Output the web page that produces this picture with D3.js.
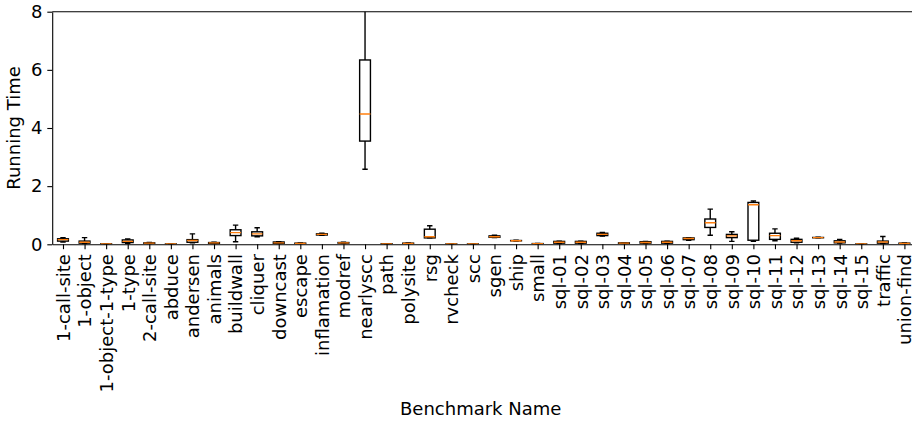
<!DOCTYPE html>
<html>
<head>
<meta charset="utf-8">
<script src="https://cdn.jsdelivr.net/npm/d3@7"></script>
<style>
  body { margin: 0; background: #fff; }
  text { font-family: "DejaVu Sans", sans-serif; }
</style>
</head>
<body>
<svg id="chart"></svg>
<script>
const svgWidth = 912;
const svgHeight = 424;

// benchmark names, in order
const names = ["1-call-site", "1-object", "1-object-1-type", "1-type", "2-call-site", "abduce",
  "andersen", "animals", "buildwall", "cliquer", "downcast", "escape", "inflamation", "modref",
  "nearlyscc", "path", "polysite", "rsg", "rvcheck", "scc", "sgen", "ship", "small",
  "sql-01", "sql-02", "sql-03", "sql-04", "sql-05", "sql-06", "sql-07", "sql-08", "sql-09",
  "sql-10", "sql-11", "sql-12", "sql-13", "sql-14", "sql-15", "traffic", "union-find"];

// box statistics
const whiskLow = [0.08, 0.02, 0.005, 0.03, 0.02, 0.005, 0.05, 0.02, 0.09, 0.26, 0.02, 0.02, 0.31, 0.03,
  2.58, 0.005, 0.02, 0.22, 0.005, 0.005, 0.23, 0.11, 0.01,
  0.02, 0.02, 0.28, 0.02, 0.02, 0.03, 0.14, 0.31, 0.10, 0.10, 0.12, 0.05, 0.22, 0.04, 0.005, 0.02, 0.02];
const q1 = [0.11, 0.04, 0.01, 0.06, 0.03, 0.008, 0.07, 0.03, 0.30, 0.29, 0.03, 0.025, 0.32, 0.04,
  3.55, 0.01, 0.025, 0.22, 0.008, 0.008, 0.24, 0.12, 0.015,
  0.04, 0.04, 0.30, 0.03, 0.04, 0.04, 0.16, 0.58, 0.23, 0.14, 0.17, 0.07, 0.225, 0.05, 0.008, 0.04, 0.025];
const medians = [0.16, 0.07, 0.012, 0.10, 0.04, 0.01, 0.13, 0.05, 0.40, 0.36, 0.05, 0.03, 0.34, 0.05,
  4.48, 0.015, 0.03, 0.26, 0.01, 0.01, 0.26, 0.12, 0.02,
  0.07, 0.07, 0.34, 0.04, 0.06, 0.07, 0.20, 0.74, 0.29, 1.36, 0.30, 0.12, 0.23, 0.08, 0.01, 0.08, 0.03];
const q3 = [0.19, 0.11, 0.015, 0.15, 0.05, 0.012, 0.16, 0.06, 0.50, 0.43, 0.08, 0.04, 0.36, 0.06,
  6.34, 0.02, 0.04, 0.52, 0.012, 0.012, 0.29, 0.13, 0.025,
  0.10, 0.10, 0.38, 0.05, 0.09, 0.10, 0.22, 0.87, 0.34, 1.44, 0.38, 0.17, 0.235, 0.12, 0.012, 0.11, 0.04];
const whiskHigh = [0.23, 0.23, 0.02, 0.18, 0.06, 0.015, 0.36, 0.07, 0.66, 0.57, 0.09, 0.045, 0.38, 0.07,
  8.6, 0.02, 0.045, 0.64, 0.015, 0.015, 0.31, 0.14, 0.03,
  0.11, 0.11, 0.41, 0.05, 0.10, 0.11, 0.23, 1.21, 0.43, 1.49, 0.53, 0.21, 0.24, 0.17, 0.015, 0.27, 0.045];
const yTicks = [0, 2, 4, 6, 8];

const plotLeft = 52.2, plotRight = 915.2, plotTop = 11.7, plotBottom = 244.3;
const fontSize = 18;

const svg = d3.select("#chart")
  .attr("width", svgWidth)
  .attr("height", svgHeight);

const xScale = d3.scalePoint()
  .domain(names)
  .range([plotLeft, plotRight])
  .padding(0.5);
const yScale = d3.scaleLinear()
  .domain([0, 8])
  .range([plotBottom, plotTop]);

const step = xScale.step();
const boxW = step * 0.5;
const capW = step * 0.25;

svg.append("defs").append("clipPath")
  .attr("id", "plotClip")
  .append("rect")
  .attr("x", plotLeft).attr("y", plotTop)
  .attr("width", plotRight - plotLeft).attr("height", plotBottom - plotTop);

const boxes = names.map((n, i) => ({
  name: n, lo: whiskLow[i], q1: q1[i], med: medians[i], q3: q3[i], hi: whiskHigh[i]
}));

const plot = svg.append("g").attr("clip-path", "url(#plotClip)");

const g = plot.selectAll("g.box")
  .data(boxes)
  .enter()
  .append("g")
  .attr("class", "box")
  .attr("transform", d => `translate(${xScale(d.name)},0)`);

// whiskers
g.append("line")
  .attr("y1", d => yScale(d.q3)).attr("y2", d => yScale(d.hi))
  .attr("stroke", "#000").attr("stroke-width", 1.4);
g.append("line")
  .attr("y1", d => yScale(d.q1)).attr("y2", d => yScale(d.lo))
  .attr("stroke", "#000").attr("stroke-width", 1.4);
// caps
g.append("line")
  .attr("x1", -capW / 2).attr("x2", capW / 2)
  .attr("y1", d => yScale(d.hi)).attr("y2", d => yScale(d.hi))
  .attr("stroke", "#000").attr("stroke-width", 1.4);
g.append("line")
  .attr("x1", -capW / 2).attr("x2", capW / 2)
  .attr("y1", d => yScale(d.lo)).attr("y2", d => yScale(d.lo))
  .attr("stroke", "#000").attr("stroke-width", 1.4);
// box
g.append("rect")
  .attr("x", -boxW / 2)
  .attr("width", boxW)
  .attr("y", d => yScale(d.q3))
  .attr("height", d => yScale(d.q1) - yScale(d.q3))
  .attr("fill", "none")
  .attr("stroke", "#000").attr("stroke-width", 1.4);
// median
g.append("line")
  .attr("x1", -boxW / 2).attr("x2", boxW / 2)
  .attr("y1", d => yScale(d.med)).attr("y2", d => yScale(d.med))
  .attr("stroke", "#ff7f0e").attr("stroke-width", 1.4);

// axes
const xAxis = d3.axisBottom(xScale).tickSize(4.9).tickPadding(4.9).tickSizeOuter(0);
const yAxis = d3.axisLeft(yScale).tickValues(yTicks).tickSize(4.9).tickPadding(4.9).tickSizeOuter(0);

const gx = svg.append("g")
  .attr("transform", `translate(0, ${plotBottom})`)
  .call(xAxis);
gx.selectAll("text")
  .attr("transform", "rotate(-90)")
  .attr("text-anchor", "end")
  .attr("x", -9.8)
  .attr("y", 0)
  .attr("dy", "0.35em");

const gy = svg.append("g")
  .attr("transform", `translate(${plotLeft}, 0)`)
  .call(yAxis);

[gx, gy].forEach(a => {
  a.attr("font-size", fontSize).attr("font-family", "DejaVu Sans");
  a.selectAll("text").attr("fill", "#000");
  a.selectAll(".tick line").attr("stroke", "#000").attr("stroke-width", 1.1);
  a.select(".domain").attr("stroke", "#000").attr("stroke-width", 1.1);
});

// top spine
svg.append("line")
  .attr("x1", plotLeft).attr("x2", plotRight)
  .attr("y1", plotTop).attr("y2", plotTop)
  .attr("stroke", "#000").attr("stroke-width", 1.1);

// axis labels
svg.append("text")
  .text("Benchmark Name")
  .attr("x", (plotLeft + plotRight) / 2 - 3)
  .attr("y", 415)
  .attr("font-size", fontSize)
  .attr("text-anchor", "middle");

svg.append("text")
  .text("Running Time")
  .attr("transform", "rotate(-90)")
  .attr("x", -(plotTop + plotBottom) / 2)
  .attr("y", 20)
  .attr("font-size", fontSize)
  .attr("text-anchor", "middle");
</script>
</body>
</html>
